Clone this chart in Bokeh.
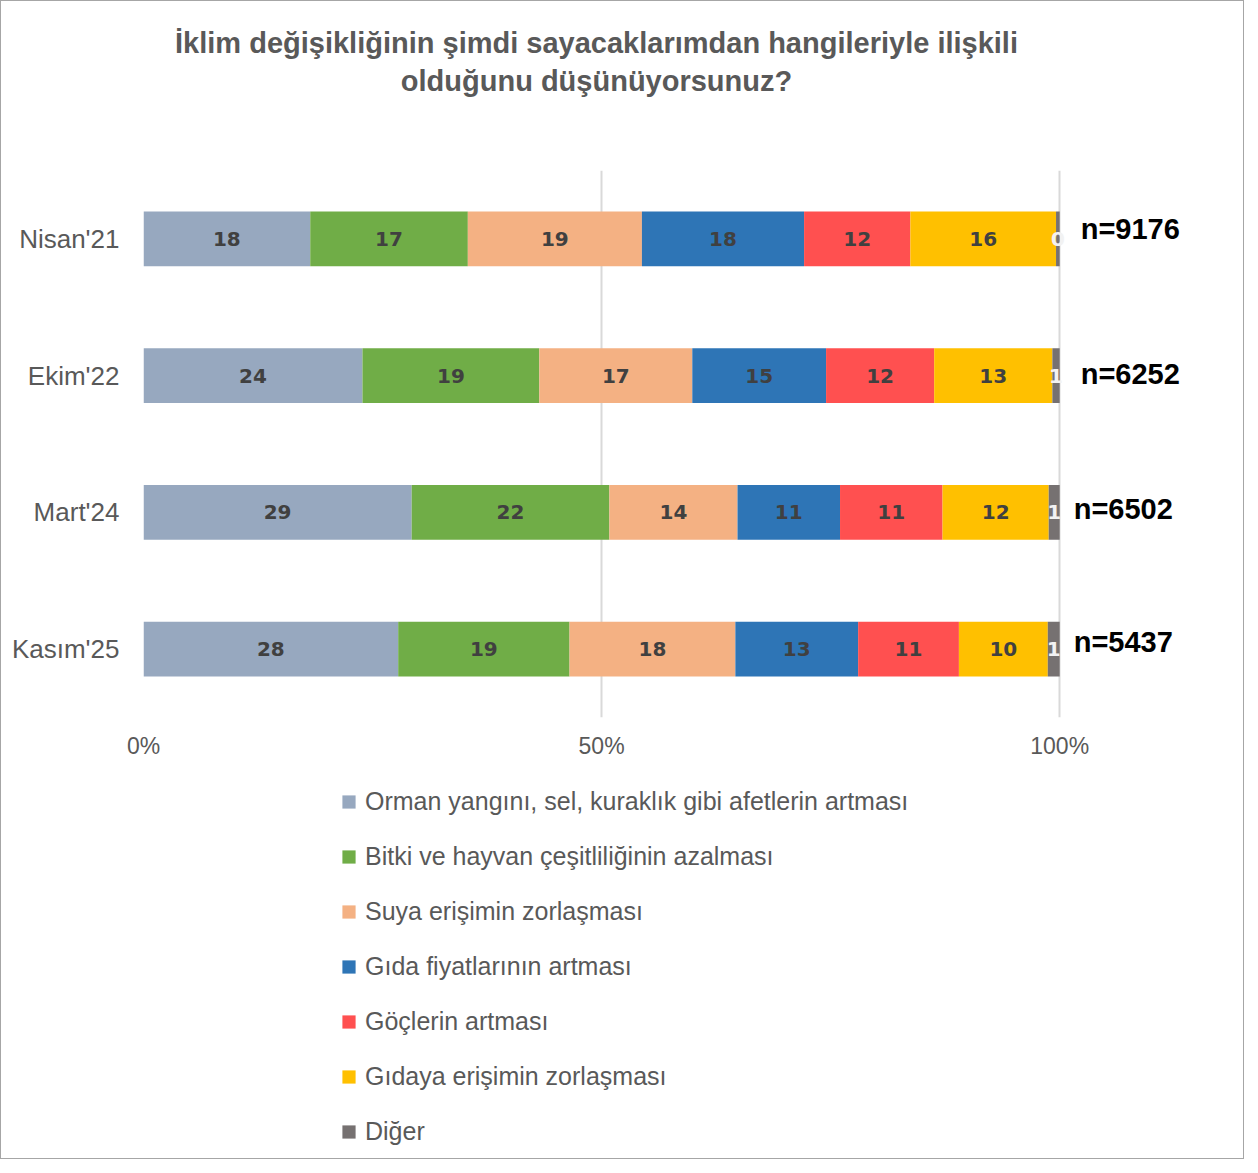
from bokeh.plotting import figure
from bokeh.layouts import column
from bokeh.models import Range1d, FactorRange, FixedTicker, Legend, LegendItem, ColumnDataSource
from bokeh.core.properties import value
from bokeh.embed import file_html
from bokeh.resources import INLINE

# ---------------- data ----------------
title_lines = ["İklim değişikliğinin şimdi sayacaklarımdan hangileriyle ilişkili",
               "olduğunu düşünüyorsunuz?"]
periods = ["Nisan'21", "Ekim'22", "Mart'24", "Kasım'25"]
sample_sizes = ["n=9176", "n=6252", "n=6502", "n=5437"]
series_names = [
    "Orman yangını, sel, kuraklık gibi afetlerin artması",
    "Bitki ve hayvan çeşitliliğinin azalması",
    "Suya erişimin zorlaşması",
    "Gıda fiyatlarının artması",
    "Göçlerin artması",
    "Gıdaya erişimin zorlaşması",
    "Diğer",
]
afetler = [18.2, 23.9, 29.3, 27.8]
biyocesitlilik = [17.2, 19.3, 21.6, 18.7]
su_erisimi = [19.0, 16.7, 14.0, 18.1]
gida_fiyatlari = [17.7, 14.6, 11.2, 13.4]
gocler = [11.6, 11.8, 11.2, 11.0]
gida_erisimi = [15.9, 12.9, 11.6, 9.7]
diger = [0.4, 0.8, 1.2, 1.3]
x_tick_values = [0, 50, 100]
x_tick_labels = ["0%", "50%", "100%"]

# ---------------- styles ----------------
colors = ["#97A8BF", "#70AD47", "#F4B183", "#2E75B6", "#FF5050", "#FFC000", "#767171"]
label_colors = ["#404040"] * 6 + ["#F2F2F2"]
GRAY = "#595959"
W = 1242
TITLE_H, MAIN_H, LEG_H = 130, 640, 387
BL, BR = 142, 10  # common left/right borders so the frames line up

series_values = [afetler, biyocesitlilik, su_erisimi, gida_fiyatlari, gocler, gida_erisimi, diger]
keys = [f"s{i}" for i in range(len(series_values))]

# normalise to 100% per period (100% stacked bar)
totals = [sum(s[j] for s in series_values) for j in range(len(periods))]
data = {"period": periods}
for k, s in zip(keys, series_values):
    data[k] = [v / t * 100 for v, t in zip(s, totals)]
source = ColumnDataSource(data)


def blank(fig):
    fig.title = None
    fig.outline_line_color = None
    fig.xgrid.visible = False
    fig.ygrid.visible = False
    fig.min_border_top = 0
    fig.min_border_bottom = 0
    fig.min_border_left = BL
    fig.min_border_right = BR
    fig.background_fill_alpha = 0


# ---------------- title ----------------
pt = figure(width=W, height=TITLE_H, x_range=Range1d(BL, W - BR), y_range=Range1d(TITLE_H, 0),
            x_axis_location=None, y_axis_location=None,
            output_backend="svg", toolbar_location=None)
blank(pt)
pt.text(x=[595, 595], y=[41, 79], text=title_lines, text_align="center", text_baseline="middle",
        text_font=value("Liberation Sans"), text_font_style="bold", text_font_size="29px",
        text_color=GRAY)

# ---------------- main chart ----------------
p = figure(
    width=W, height=MAIN_H,
    y_range=FactorRange(factors=list(reversed(periods))),
    x_range=Range1d(0, 118.97),
    output_backend="svg", toolbar_location=None,
    min_border_left=BL, min_border_top=39, min_border_right=BR, min_border_bottom=54,
)
p.title = None
p.outline_line_color = None

renderers = p.hbar_stack(keys, y="period", height=0.4, color=colors, line_color=None, source=source)

# data labels
lx, ly, lt, lc = [], [], [], []
for j, per in enumerate(periods):
    cum = 0.0
    for i, k in enumerate(keys):
        v = data[k][j]
        lx.append(cum + v / 2)
        ly.append(per)
        lt.append(str(round(series_values[i][j])))
        lc.append(label_colors[i])
        cum += v
p.text(x=lx, y=ly, text=lt, text_color=lc, text_align="center", text_baseline="middle",
       text_font=value("DejaVu Sans"), text_font_style="bold", text_font_size="20px")

# sample sizes
p.text(x=[100] * len(periods), y=periods, text=sample_sizes,
       x_offset=[21, 21, 14, 14], y_offset=[-10, -2, -3, -7],
       text_align="left", text_baseline="middle", text_color="#000000",
       text_font=value("Liberation Sans"), text_font_style="bold", text_font_size="29px")

# axes
for ax in (p.xaxis, p.yaxis):
    ax.axis_line_color = None
    ax.major_tick_line_color = None
    ax.minor_tick_line_color = None
    ax.major_tick_out = 0
    ax.major_tick_in = 0
    ax.minor_tick_out = 0
    ax.major_label_text_font = "Liberation Sans"
    ax.major_label_text_color = GRAY
p.xaxis.ticker = FixedTicker(ticks=x_tick_values)
p.xaxis.major_label_overrides = {v: l for v, l in zip(x_tick_values, x_tick_labels)}
p.xaxis.major_label_text_font_size = "23px"
p.xaxis.major_label_standoff = 15
p.yaxis.major_label_text_font_size = "26px"
p.yaxis.major_label_standoff = 24

p.xgrid.ticker = FixedTicker(ticks=x_tick_values)
p.xgrid.grid_line_color = "#D9D9D9"
p.xgrid.grid_line_width = 2
p.ygrid.grid_line_color = None

# ---------------- legend ----------------
pl = figure(width=W, height=LEG_H, x_range=Range1d(BL, W - BR), y_range=Range1d(0, LEG_H),
            x_axis_location=None, y_axis_location=None,
            output_backend="svg", toolbar_location=None)
blank(pl)
nan = float("nan")
leg_renderers = [pl.scatter(x=[nan], y=[nan], marker="square", fill_color=c, line_color=None)
                 for c in colors]
items = [LegendItem(label=n, renderers=[r]) for n, r in zip(series_names, leg_renderers)]
legend = Legend(items=items, orientation="vertical", location=(331 - BL, 10),
                glyph_width=33, glyph_height=33, label_height=33, spacing=22,
                label_text_font="Liberation Sans", label_text_font_size="25px",
                label_text_color=GRAY, label_standoff=-3, padding=0, margin=0,
                border_line_color=None, background_fill_alpha=0)
pl.add_layout(legend, "center")

layout = column(pt, p, pl, spacing=0)
layout.styles = {"border": "1px solid #A6A6A6"}

open("out.html", "w").write(file_html(layout, INLINE))
